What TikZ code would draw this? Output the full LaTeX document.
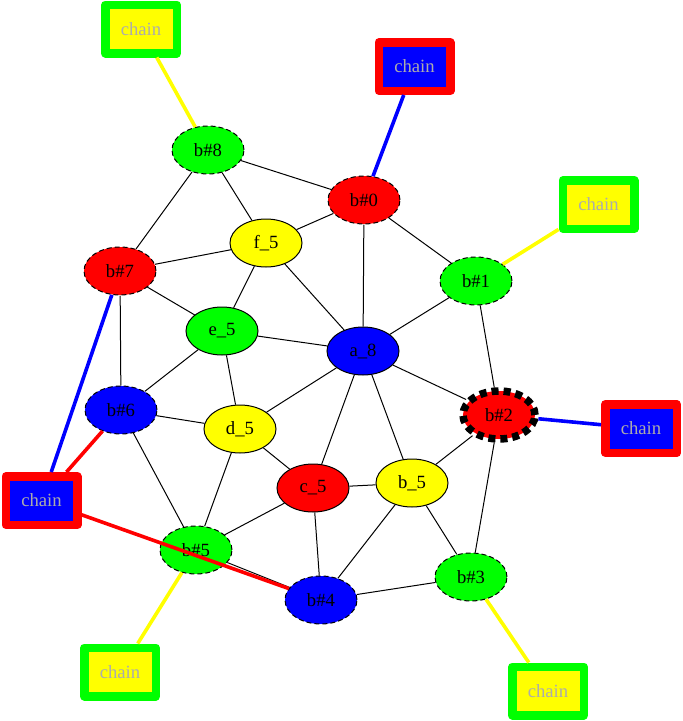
\documentclass[tikz,border=0pt]{standalone}
\usepackage{fontspec}
\setmainfont{Liberation Serif}
\usetikzlibrary{shapes.geometric}
\definecolor{gG}{RGB}{0,255,0}
\definecolor{rR}{RGB}{255,0,0}
\definecolor{bB}{RGB}{0,0,255}
\definecolor{yY}{RGB}{255,255,0}
\definecolor{chaintext}{RGB}{172,172,172}
\begin{document}
\begin{tikzpicture}[x=1pt,y=-1pt,
  every node/.style={font=\fontsize{18.67}{22}\selectfont},
  nd/.style={ellipse,draw=black,line width=1pt,minimum width=72pt,minimum height=48pt,inner sep=0pt},
  bn/.style={nd,dash pattern=on 5pt off 3pt},
  thickdash/.style={nd,line width=7.5pt,dash pattern=on 7pt off 5pt},
  chainbox/.style={rectangle,line width=8.5pt,line join=round,minimum width=71.5pt,minimum height=48.5pt,inner sep=0pt,text=chaintext},
  edge/.style={draw=black,line width=1pt},
  cedge/.style={line width=3.6pt}]
\useasboundingbox (0,0) rectangle (683,721);
% main nodes
\node[bn,fill=gG] (b8) at (208,150) {b\#8};
\node[bn,fill=rR] (b0) at (364,200) {b\#0};
\node[bn,fill=gG] (b1) at (476,281) {b\#1};
\node[thickdash,fill=rR] (b2) at (499,415) {b\#2};
\node[bn,fill=gG] (b3) at (471,577) {b\#3};
\node[bn,fill=bB] (b4) at (321,600) {b\#4};
\node[bn,fill=gG] (b5) at (196,550) {b\#5};
\node[bn,fill=bB] (b6) at (121,410) {b\#6};
\node[bn,fill=rR] (b7) at (120,271) {b\#7};
\node[nd,fill=yY] (f5) at (266,243) {f\_5};
\node[nd,fill=gG] (e5) at (222,331) {e\_5};
\node[nd,fill=bB] (a8) at (363,351) {a\_8};
\node[nd,fill=yY] (d5) at (240,429) {d\_5};
\node[nd,fill=rR] (c5) at (313,488) {c\_5};
\node[nd,fill=yY] (b5s) at (412,483) {b\_5};
% chain nodes
\node[chainbox,draw=gG,fill=yY] (ch8) at (141,29) {chain};
\node[chainbox,draw=rR,fill=bB] (ch0) at (414.5,66.5) {chain};
\node[chainbox,draw=gG,fill=yY] (ch1) at (598.5,204.5) {chain};
\node[chainbox,draw=rR,fill=bB] (ch2) at (641,428.5) {chain};
\node[chainbox,draw=rR,fill=bB] (ch7) at (41.5,500.5) {chain};
\node[chainbox,draw=gG,fill=yY] (ch5) at (120,672) {chain};
\node[chainbox,draw=gG,fill=yY] (ch3) at (548,691) {chain};
% black edges
\draw[edge] (b8) -- (b7);
\draw[edge] (b8) -- (f5);
\draw[edge] (b8) -- (b0);
\draw[edge] (b0) -- (f5);
\draw[edge] (b0) -- (a8);
\draw[edge] (b0) -- (b1);
\draw[edge] (b7) -- (f5);
\draw[edge] (b7) -- (e5);
\draw[edge] (b7) -- (b6);
\draw[edge] (f5) -- (e5);
\draw[edge] (f5) -- (a8);
\draw[edge] (b1) -- (a8);
\draw[edge] (b1) -- (b2);
\draw[edge] (e5) -- (a8);
\draw[edge] (e5) -- (b6);
\draw[edge] (e5) -- (d5);
\draw[edge] (a8) -- (d5);
\draw[edge] (a8) -- (c5);
\draw[edge] (a8) -- (b5s);
\draw[edge] (a8) -- (b2);
\draw[edge] (b6) -- (d5);
\draw[edge] (b6) -- (b5);
\draw[edge] (d5) -- (c5);
\draw[edge] (d5) -- (b5);
\draw[edge] (c5) -- (b5s);
\draw[edge] (c5) -- (b5);
\draw[edge] (c5) -- (b4);
\draw[edge] (b5s) -- (b2);
\draw[edge] (b5s) -- (b4);
\draw[edge] (b5s) -- (b3);
\draw[edge] (b2) -- (b3);
\draw[edge] (b5) -- (b4);
\draw[edge] (b4) -- (b3);
% coloured edges
\draw[cedge,yY] (b8) -- (ch8);
\draw[cedge,bB] (b0) -- (ch0);
\draw[cedge,yY] (b1) -- (ch1);
\draw[cedge,bB] (b2) -- (ch2);
\draw[cedge,bB] (b7) -- (ch7);
\draw[cedge,rR] (b6) -- (ch7);
\draw[cedge,rR] (ch7) -- (b4);
\draw[cedge,yY] (b5) -- (ch5);
\draw[cedge,yY] (b3) -- (ch3);
\end{tikzpicture}
\end{document}
